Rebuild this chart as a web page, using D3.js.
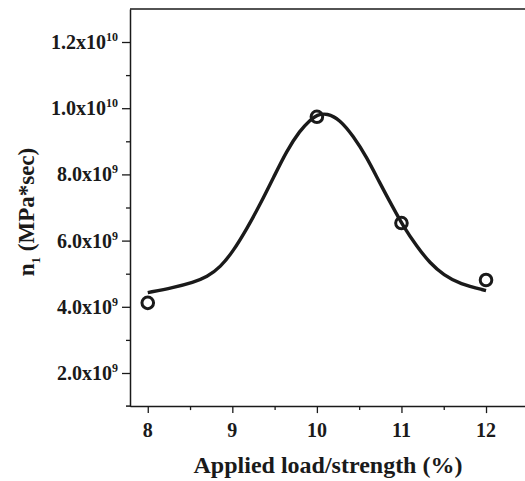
<!DOCTYPE html>
<html lang="en">
<head>
    <meta charset="UTF-8">
    <title>n1 vs applied load</title>
    <script src="https://cdn.jsdelivr.net/npm/d3@7/dist/d3.min.js"></script>
    <style>
        html, body {
            margin: 0;
            padding: 0;
            background: #fff;
        }
        svg text {
            font-family: "Liberation Serif", "Times New Roman", serif;
            font-weight: bold;
            fill: #1a1a1a;
        }
    </style>
</head>
<body>
<div id="chart"></div>
<script>
    // measured points
    var loads = [8, 10, 11, 12];
    var viscosity = [4.12e9, 9.74e9, 6.53e9, 4.81e9];

    // fitted curve
    var fitLoad = [8.00, 8.30, 8.54, 8.70, 8.86, 9.01, 9.17, 9.33, 9.49, 9.64, 9.80, 9.92,
        10.00, 10.12, 10.27, 10.43, 10.59, 10.74, 10.90, 11.02, 11.18, 11.34, 11.50, 11.69, 12.00];
    var fitVisc = [4.43e9, 4.58e9, 4.74e9, 4.90e9, 5.20e9, 5.68e9, 6.35e9, 7.10e9, 7.92e9, 8.70e9, 9.33e9, 9.64e9,
        9.80e9, 9.85e9, 9.66e9, 9.16e9, 8.52e9, 7.76e9, 7.00e9, 6.44e9, 5.83e9, 5.31e9, 4.96e9, 4.69e9, 4.49e9];

    var xTicks = [8, 9, 10, 11, 12];
    var xMinor = [8.5, 9.5, 10.5, 11.5];
    var yTicks = [2e9, 4e9, 6e9, 8e9, 1e10, 1.2e10];
    var yMinor = [3e9, 5e9, 7e9, 9e9, 1.1e10];

    var W = 525, H = 481;
    var svg = d3.select("#chart").append("svg")
        .attr("width", W)
        .attr("height", H);

    var x = d3.scaleLinear().domain([7.79, 12.5]).range([130, 528.3]);
    var y = d3.scaleLinear().domain([1e9, 1.3e10]).range([406.1, 8.9]);

    var ink = "#1a1a1a";

    // frame: top line
    svg.append("line")
        .attr("x1", 130).attr("x2", W + 5)
        .attr("y1", y(1.3e10)).attr("y2", y(1.3e10))
        .attr("stroke", ink).attr("stroke-width", 1.5);

    // y axis
    svg.append("g")
        .attr("transform", "translate(130,0)")
        .call(d3.axisLeft(y).tickValues(yTicks).tickSize(8).tickSizeOuter(0).tickFormat(""));
    svg.append("g")
        .attr("transform", "translate(130,0)")
        .call(d3.axisLeft(y).tickValues(yMinor).tickSize(4).tickSizeOuter(0).tickFormat(""))
        .select(".domain").remove();

    // x axis
    svg.append("g")
        .attr("transform", "translate(0," + y(1e9) + ")")
        .call(d3.axisBottom(x).tickValues(xTicks).tickSize(7).tickSizeOuter(0).tickFormat(""));
    svg.append("g")
        .attr("transform", "translate(0," + y(1e9) + ")")
        .call(d3.axisBottom(x).tickValues(xMinor).tickSize(4).tickSizeOuter(0).tickFormat(""))
        .select(".domain").remove();

    svg.selectAll(".domain").attr("stroke", ink).attr("stroke-width", 1.5);
    svg.selectAll(".tick line").attr("stroke", ink).attr("stroke-width", 1.3);

    // x axis extends a little left of the y axis
    svg.append("line")
        .attr("x1", 126).attr("x2", 131)
        .attr("y1", y(1e9)).attr("y2", y(1e9))
        .attr("stroke", ink).attr("stroke-width", 1.5);

    // y tick labels like 1.2x10^10
    yTicks.forEach(function (v) {
        var exp = Math.floor(Math.log10(v) + 1e-9);
        var mant = (v / Math.pow(10, exp)).toFixed(1);
        var t = svg.append("text")
            .attr("x", 118)
            .attr("y", y(v) + 7)
            .attr("text-anchor", "end")
            .style("font-size", "20px");
        t.append("tspan").text(mant + "x10");
        t.append("tspan")
            .attr("dy", -8)
            .style("font-size", "12px")
            .text(exp);
    });

    // x tick labels
    svg.selectAll(".xlab")
        .data(xTicks)
        .enter().append("text")
        .attr("class", "xlab")
        .attr("x", function (d) { return x(d); })
        .attr("y", 437)
        .attr("text-anchor", "middle")
        .style("font-size", "20px")
        .text(function (d) { return d; });

    // axis titles
    svg.append("text")
        .attr("x", 328)
        .attr("y", 473)
        .attr("text-anchor", "middle")
        .style("font-size", "24px")
        .text("Applied load/strength (%)");

    var yt = svg.append("text")
        .attr("transform", "translate(34,212) rotate(-90)")
        .attr("text-anchor", "middle")
        .style("font-size", "23px");
    yt.append("tspan").text("n");
    yt.append("tspan").attr("dy", 6).style("font-size", "13px").text("1");
    yt.append("tspan").attr("dy", -6).text(" (MPa*sec)");

    // fitted curve
    var line = d3.line()
        .x(function (d, i) { return x(fitLoad[i]); })
        .y(function (d) { return y(d); })
        .curve(d3.curveBasis);

    svg.append("path")
        .datum(fitVisc)
        .attr("d", line)
        .attr("fill", "none")
        .attr("stroke", ink)
        .attr("stroke-width", 3.4);

    // measured points, open circles
    svg.selectAll(".pt")
        .data(viscosity)
        .enter().append("circle")
        .attr("class", "pt")
        .attr("cx", function (d, i) { return x(loads[i]); })
        .attr("cy", function (d) { return y(d); })
        .attr("r", 5.8)
        .attr("fill", "none")
        .attr("stroke", ink)
        .attr("stroke-width", 3);
</script>
</body>
</html>
